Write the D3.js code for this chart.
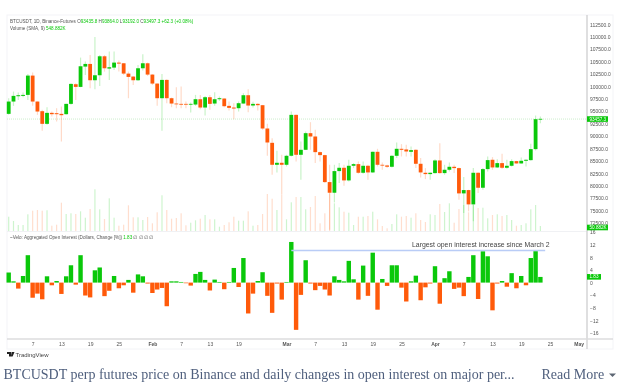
<!DOCTYPE html>
<html>
<head>
<meta charset="utf-8">
<style>
    html, body { margin: 0; padding: 0; background: #fff; overflow: hidden; }
    svg { display: block; filter: blur(0.3px); }
    text { font-family: "Liberation Sans", sans-serif; }
    .tick text { fill: #555; font-size: 5px; }
    .domain { display: none; }
    .caption { font-family: "Liberation Serif", serif; fill: #4f5f7d; font-size: 14px; }
</style>
</head>
<body>
<script src="https://cdn.jsdelivr.net/npm/d3@7"></script>
<script>
const opens = [94503, 96983, 98055, 98122, 98323, 102211, 96983, 95039, 92492, 94704, 94636, 94503, 94435, 96514, 100468, 99932, 104021, 104558, 101273, 102278, 106099, 103619, 103820, 104825, 104691, 102613, 102010, 101273, 103686, 104691, 102412, 100603, 97653, 101340, 97653, 96580, 96514, 96514, 96380, 96380, 97452, 95776, 97854, 96580, 97452, 97586, 96111, 95776, 95642, 96580, 98256, 96179, 96514, 96246, 91553, 88670, 84246, 84648, 84246, 86056, 94301, 86257, 87262, 90614, 89944, 86793, 86190, 80760, 78616, 82973, 83643, 81096, 84045, 84380, 82637, 84045, 82705, 86860, 84246, 84112, 83844, 86056, 87464, 87330, 86860, 87262, 84447, 82637, 82369, 82570, 85117, 82570, 83241, 83844, 83576, 78482, 79152, 76270, 82637, 79621, 83375, 85252, 83710, 84581, 83643, 84045, 84983, 84514, 85050, 85184, 87397, 93429]
const highs = [97653, 98994, 98793, 98793, 102546, 102814, 97000, 95307, 95843, 94972, 95642, 95977, 96550, 100670, 100670, 105831, 105027, 106367, 109987, 106367, 106367, 107037, 107037, 105227, 104750, 103016, 102144, 104356, 106501, 104825, 102546, 100670, 102546, 101474, 97787, 99865, 100000, 96983, 96782, 98323, 98323, 98122, 98323, 98860, 97988, 97653, 96983, 96648, 96983, 98658, 99463, 96916, 96648, 96300, 92491, 89608, 87061, 86257, 86257, 94971, 94350, 88938, 90949, 92826, 91284, 86927, 86257, 84246, 84246, 84581, 84246, 85252, 84581, 84917, 84917, 84246, 86927, 87464, 84715, 84246, 86190, 88737, 88402, 88268, 87933, 87397, 85587, 83576, 82705, 85385, 88603, 84246, 84715, 84246, 83710, 81766, 79219, 83576, 82705, 83576, 85922, 85788, 85385, 86458, 85252, 85385, 85050, 85721, 85385, 88469, 94167, 93965]
const lows = [94302, 96111, 97318, 97854, 97318, 96111, 94302, 91084, 92291, 93967, 92961, 88939, 94302, 96313, 97318, 99865, 102345, 99664, 99463, 100133, 103016, 101340, 103351, 103016, 102345, 97653, 100334, 101139, 103217, 102144, 100334, 96111, 91084, 96648, 95843, 95642, 95642, 95642, 94771, 96111, 95441, 94168, 95307, 96111, 97116, 95843, 95173, 93430, 94972, 96514, 94838, 95776, 95173, 91284, 86056, 82235, 82705, 78214, 83911, 85922, 84917, 81230, 87200, 87262, 84581, 84917, 80560, 71175, 76672, 80560, 80023, 80895, 83576, 82436, 82436, 81230, 82570, 83911, 83241, 83576, 83710, 85587, 85922, 85922, 85922, 83576, 81699, 81364, 81230, 82436, 82436, 82235, 82905, 82570, 77208, 74527, 74862, 72851, 78549, 79219, 82905, 83241, 83576, 83375, 83442, 83911, 84447, 84447, 83911, 85050, 87128, 92625]
const closes = [96983, 98122, 98256, 98323, 102211, 96983, 94972, 92492, 94704, 94435, 94435, 94235, 96514, 100535, 99932, 104088, 104558, 101273, 102278, 106099, 103686, 103887, 104825, 104624, 102613, 101943, 101273, 103686, 104691, 102412, 100603, 97653, 101340, 97653, 96580, 96447, 96380, 96380, 96514, 97452, 95776, 97854, 96514, 97452, 97653, 96045, 95709, 95575, 96648, 98256, 96179, 96514, 96246, 91553, 88737, 84246, 84648, 84246, 86056, 94301, 86257, 87262, 90614, 89944, 86793, 86190, 80760, 78616, 82973, 83643, 81096, 84045, 84380, 82637, 84045, 82705, 86860, 84246, 84112, 83844, 86056, 87464, 87262, 86927, 87195, 84447, 82705, 82369, 82637, 85117, 82570, 83241, 83844, 83576, 78482, 79152, 76270, 82637, 79621, 83375, 85184, 83710, 84581, 83643, 84045, 84983, 84514, 85050, 85252, 87397, 93429, 93497]
// volume in thousands
const volumes = [143, 100, 60, 60, 167, 203, 210, 203, 207, 53, 63, 283, 170, 177, 170, 197, 133, 220, 417, 217, 120, 327, 133, 53, 63, 257, 137, 137, 110, 140, 77, 187, 357, 210, 123, 130, 177, 57, 83, 107, 123, 160, 117, 117, 43, 60, 87, 143, 103, 103, 197, 53, 60, 170, 370, 323, 210, 360, 117, 287, 340, 340, 217, 240, 350, 77, 177, 377, 277, 237, 193, 183, 60, 143, 143, 150, 193, 117, 50, 27, 70, 167, 143, 150, 133, 177, 110, 90, 167, 160, 270, 190, 277, 83, 220, 260, 187, 260, 230, 233, 127, 160, 167, 150, 160, 110, 53, 60, 77, 217, 260, 50]
// open interest daily change in %
const openInterest = [3.2, 0.4, -1.9, 2.1, 8.7, -4.8, -3.5, -5.3, 2.0, -0.85, 0.5, -3.6, 2.0, 5.5, -0.65, 8.7, -4.1, -4.7, 3.9, 4.8, -4.3, -2.6, 2.1, -1.8, -0.85, 0.85, -3.2, 2.6, 2.0, -0.3, -3.3, -2.2, -1.7, -7.5, 0.4, 0.4, 0.2, -0.2, -0.95, 2.75, 3.4, 0.85, -2.5, 0.95, 0.2, -2.1, 0.2, 4.65, -1.4, 7.8, -9.8, -3.5, 0.5, 3.3, -4.2, -9.6, -0.3, -5.4, 0.2, 12.9, -15, -3.9, 7.1, -0.3, -2.4, -1.05, -2.2, -4.1, 2.0, 0.85, 0.4, 6.9, 1.05, -5.4, 5.4, -4.2, 9.5, -8.6, 1.15, -1.05, 5.5, 5.5, -1.6, -6.0, 0.4, 2.2, -5.6, -1.5, -0.3, 5.2, -6.7, 1.4, 3.6, -2, -1.6, -4.3, 1.8, 8.7, -5.2, 9.95, 8.35, -8.8, -0.3, 0.5, -1.3, 3.0, -1.8, 2.1, -0.85, 7.8, 10, 1.8]

const priceTicks = [72500, 75000, 77500, 80000, 82500, 85000, 87500, 90000, 92500, 95000, 97500, 100000, 102500, 105000, 107500, 110000, 112500]
const oiTicks = [-16, -12, -8, -4, 0, 4, 8, 12, 16]
const dayTicks = ["2025-01-07", "2025-01-13", "2025-01-19", "2025-01-25", "2025-02-01", "2025-02-07", "2025-02-13", "2025-02-19", "2025-03-01", "2025-03-07", "2025-03-13", "2025-03-19", "2025-03-25", "2025-04-01", "2025-04-07", "2025-04-13", "2025-04-19", "2025-04-25", "2025-05-01"]

const WIDTH = 621
const HEIGHT = 382
const FRAME = { left: 7, right: 613, top: 15, bottom: 349, axisX: 587, axisY: 339, pane: 231 }

const GREEN = "#0ac80a"
const RED = "#ff5a0a"

const firstDay = new Date("2025-01-02T00:00:00Z")
const dates = closes.map((d, i) => d3.utcDay.offset(firstDay, i))

const xScale = d3.scaleUtc()
    .domain([firstDay, new Date("2025-05-01T00:00:00Z")])
    .range([8.7, 578.7])

const yScale = d3.scaleLinear()
    .domain([72500, 112500])
    .range([223.1, 24.5])

const volScale = d3.scaleLinear()
    .domain([0, 500])
    .range([FRAME.pane, FRAME.pane - 50])

const oiScale = d3.scaleLinear()
    .domain([-16, 16])
    .range([333, 232.2])

const isUp = i => closes[i] >= opens[i]
const upColor = i => isUp(i) ? GREEN : RED

const svg = d3.select("body")
    .append("svg")
    .attr("width", WIDTH)
    .attr("height", HEIGHT)

// frame and separators
svg.append("rect")
    .attr("x", FRAME.left)
    .attr("y", FRAME.top)
    .attr("width", FRAME.right - FRAME.left)
    .attr("height", FRAME.bottom - FRAME.top)
    .attr("fill", "none")
    .attr("stroke", "#f3f4f7")

svg.append("line")
    .attr("x1", FRAME.left).attr("x2", FRAME.axisX)
    .attr("y1", FRAME.pane + 0.5).attr("y2", FRAME.pane + 0.5)
    .attr("stroke", "#f0f1f4")

// volume
svg.append("g").selectAll("rect")
    .data(volumes)
    .enter()
    .append("rect")
    .attr("x", (d, i) => xScale(dates[i]) - 0.6)
    .attr("y", d => volScale(d))
    .attr("width", 1.2)
    .attr("height", d => volScale(0) - volScale(d))
    .attr("fill", (d, i) => upColor(i))
    .attr("opacity", 0.2)

// last price line
svg.append("line")
    .attr("x1", FRAME.left).attr("x2", FRAME.axisX)
    .attr("y1", yScale(93457)).attr("y2", yScale(93457))
    .attr("stroke", "#bfe9bf")
    .attr("stroke-width", 0.8)
    .attr("stroke-dasharray", "1 1")

// wicks
svg.append("g").selectAll("line")
    .data(closes)
    .enter()
    .append("line")
    .attr("x1", (d, i) => xScale(dates[i]))
    .attr("x2", (d, i) => xScale(dates[i]))
    .attr("y1", (d, i) => yScale(highs[i]))
    .attr("y2", (d, i) => yScale(lows[i]))
    .attr("stroke", (d, i) => upColor(i))
    .attr("stroke-width", 1.2)
    .attr("opacity", 0.22)

// bodies
svg.append("g").selectAll("rect")
    .data(closes)
    .enter()
    .append("rect")
    .attr("x", (d, i) => xScale(dates[i]) - 1.9)
    .attr("y", (d, i) => yScale(Math.max(opens[i], closes[i])))
    .attr("width", 3.8)
    .attr("height", (d, i) => Math.max(0.8, Math.abs(yScale(opens[i]) - yScale(closes[i]))))
    .attr("fill", (d, i) => upColor(i))

// open interest bars
svg.append("g").selectAll("rect")
    .data(openInterest)
    .enter()
    .append("rect")
    .attr("x", (d, i) => xScale(dates[i]) - 2.2)
    .attr("y", d => Math.min(oiScale(d), oiScale(0)))
    .attr("width", 4.4)
    .attr("height", d => Math.abs(oiScale(d) - oiScale(0)))
    .attr("fill", d => d >= 0 ? GREEN : RED)

// annotation
svg.append("line")
    .attr("x1", xScale(new Date("2025-03-02T00:00:00Z")))
    .attr("x2", xScale(new Date("2025-04-24T00:00:00Z")))
    .attr("y1", oiScale(10.2))
    .attr("y2", oiScale(10.2))
    .attr("stroke", "#b9ccf6")
    .attr("stroke-width", 1.4)

svg.append("text")
    .attr("x", 412)
    .attr("y", 246.5)
    .attr("fill", "#444")
    .attr("font-size", 6.9)
    .text("Largest open interest increase since March 2")

// axes
svg.append("line")
    .attr("x1", FRAME.axisX).attr("x2", FRAME.axisX)
    .attr("y1", FRAME.top).attr("y2", FRAME.bottom)
    .attr("stroke", "#d4d4d6")
    .attr("stroke-width", 1.5)

svg.append("line")
    .attr("x1", FRAME.left).attr("x2", FRAME.right)
    .attr("y1", FRAME.axisY).attr("y2", FRAME.axisY)
    .attr("stroke", "#dcdcde")
    .attr("stroke-width", 1.5)

const yAxis = d3.axisRight(yScale)
    .tickValues(priceTicks)
    .tickFormat(d3.format(".1f"))
    .tickSize(0)
    .tickPadding(3)

svg.append("g")
    .attr("transform", "translate(" + FRAME.axisX + ", 0)")
    .call(yAxis)

const oiAxis = d3.axisRight(oiScale)
    .tickValues(oiTicks)
    .tickSize(0)
    .tickPadding(3)

svg.append("g")
    .attr("transform", "translate(" + FRAME.axisX + ", 0)")
    .call(oiAxis)

const monthTick = d => d.getUTCDate() === 1
const xAxis = d3.axisBottom(xScale)
    .tickValues(dayTicks.map(d => new Date(d + "T00:00:00Z")))
    .tickFormat(d => monthTick(d) ? d3.utcFormat("%b")(d) : d3.utcFormat("%-d")(d))
    .tickSize(0)
    .tickPadding(3)

svg.append("g")
    .attr("transform", "translate(0, " + FRAME.axisY + ")")
    .call(xAxis)
    .selectAll("text")
    .attr("font-weight", d => monthTick(d) ? "bold" : "normal")

// value tags on the axis
function tag(y, w, label) {
    svg.append("rect")
        .attr("x", FRAME.axisX)
        .attr("y", y - 2.8)
        .attr("width", w)
        .attr("height", 5.6)
        .attr("fill", GREEN)
    svg.append("text")
        .attr("x", FRAME.axisX + 2.5)
        .attr("y", y + 1.6)
        .attr("fill", "#fff")
        .attr("font-size", 4.6)
        .text(label)
}
tag(yScale(93457), 21, "93457.3")
tag(volScale(50) + 1.5, 21, "50.882K")
tag(oiScale(1.83), 14, "1.83")

// legends
const legend1 = svg.append("text")
    .attr("x", 10)
    .attr("y", 23)
    .attr("font-size", 4.6)
    .attr("fill", "#555")
legend1.append("tspan").text("BTCUSDT, 1D, Binance-Futures ")
;[["O", "93435.8"], ["H", "93864.0"], ["L", "93192.0"], ["C", "93497.3"]].forEach(p => {
    legend1.append("tspan").text(p[0])
    legend1.append("tspan").attr("fill", GREEN).text(p[1] + " ")
})
legend1.append("tspan").attr("fill", GREEN).text(" +62.3 (+0.08%)")

const legend2 = svg.append("text")
    .attr("x", 10)
    .attr("y", 29.5)
    .attr("font-size", 4.6)
    .attr("fill", "#555")
legend2.append("tspan").text("Volume (SMA, 9)  ")
legend2.append("tspan").attr("fill", GREEN).text("548.882K")

const legend3 = svg.append("text")
    .attr("x", 10)
    .attr("y", 239)
    .attr("font-size", 4.6)
    .attr("fill", "#555")
legend3.append("tspan").text("~Velo: Aggregated Open Interest (Dollars, Change [%])  ")
legend3.append("tspan").attr("fill", GREEN).text("1.83")
legend3.append("tspan").text("  ∅  ∅  ∅  ∅")

// TradingView mark
svg.append("path")
    .attr("d", "M7 352H11V356.5H9V354H7ZM11.6 352H14.5L12.6 356.5H10.9Z")
    .attr("fill", "#222")

svg.append("text")
    .attr("x", 15.5)
    .attr("y", 356.5)
    .attr("font-size", 6)
    .attr("fill", "#444")
    .text("TradingView")

// caption
svg.append("text")
    .attr("class", "caption")
    .attr("x", 3.5)
    .attr("y", 378.5)
    .text("BTCUSDT perp futures price on Binance and daily changes in open interest on major per...")

svg.append("text")
    .attr("class", "caption")
    .attr("x", 541.5)
    .attr("y", 378.5)
    .text("Read More")

svg.append("path")
    .attr("d", "M609 373.5H616L612.5 377Z")
    .attr("fill", "#5d6673")
</script>
</body>
</html>
